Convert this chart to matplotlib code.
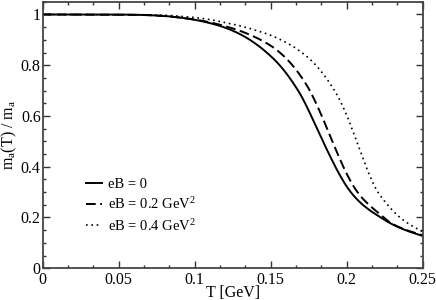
import numpy as np
from matplotlib import pyplot as plt
from matplotlib.ticker import MultipleLocator, FuncFormatter

plt.rcParams['font.family'] = ['Liberation Serif', 'DejaVu Serif']
plt.rcParams['mathtext.fontset'] = 'custom'
plt.rcParams['mathtext.rm'] = 'Liberation Serif'
plt.rcParams['mathtext.it'] = 'Liberation Serif:italic'

# temperature grid [GeV] and m_a(T)/m_a for three field strengths
T_eb0 = [0, 0.04, 0.06, 0.08, 0.09, 0.10, 0.11, 0.12, 0.13, 0.14, 0.15, 0.155, 0.16, 0.165,
         0.17, 0.175, 0.18, 0.185, 0.19, 0.195, 0.2, 0.205, 0.21, 0.215, 0.22, 0.23, 0.24, 0.25]
m_eb0 = [1.0, 1.0, 0.999, 0.994, 0.988, 0.979, 0.966, 0.948, 0.922, 0.885, 0.836, 0.806, 0.770, 0.728,
         0.680, 0.621, 0.556, 0.492, 0.430, 0.372, 0.322, 0.283, 0.253, 0.229, 0.209, 0.173, 0.147, 0.127]

T_eb02 = [0, 0.06, 0.08, 0.09, 0.1, 0.11, 0.12, 0.13, 0.14, 0.15, 0.155, 0.16, 0.165, 0.17, 0.175,
          0.18, 0.185, 0.19, 0.195, 0.2, 0.205, 0.21, 0.215, 0.22, 0.23, 0.24, 0.25]
m_eb02 = [1.0, 0.999, 0.994, 0.988, 0.980, 0.969, 0.954, 0.935, 0.910, 0.877, 0.855, 0.828, 0.795, 0.755, 0.708,
          0.648, 0.580, 0.508, 0.437, 0.372, 0.318, 0.278, 0.248, 0.222, 0.175, 0.149, 0.130]

T_eb04 = [0, 0.06, 0.08, 0.09, 0.1, 0.11, 0.12, 0.13, 0.14, 0.15, 0.155, 0.16, 0.165, 0.17, 0.175,
          0.18, 0.185, 0.19, 0.195, 0.2, 0.205, 0.21, 0.215, 0.22, 0.225, 0.23, 0.235, 0.24, 0.245, 0.25]
m_eb04 = [1.0, 0.999, 0.997, 0.993, 0.988, 0.980, 0.968, 0.955, 0.938, 0.918, 0.905, 0.890, 0.873, 0.852, 0.828,
          0.798, 0.762, 0.719, 0.668, 0.603, 0.525, 0.445, 0.367, 0.305, 0.263, 0.229, 0.200, 0.178, 0.160, 0.144]

labels = ['eB = 0', 'eB = 0.2 GeV$^2$', 'eB = 0.4 GeV$^2$']


def smooth(x, y, n=400):
    # monotone cubic (pchip-like) interpolation through the read-off points
    x = np.asarray(x, float)
    y = np.asarray(y, float)
    h = np.diff(x)
    d = np.diff(y) / h
    m = np.zeros_like(y)
    for k in range(1, len(x) - 1):
        if d[k - 1] * d[k] > 0:
            w1 = 2 * h[k] + h[k - 1]
            w2 = h[k] + 2 * h[k - 1]
            m[k] = (w1 + w2) / (w1 / d[k - 1] + w2 / d[k])
    m[0] = d[0]
    m[-1] = d[-1]
    xs = np.linspace(x[0], x[-1], n)
    idx = np.clip(np.searchsorted(x, xs) - 1, 0, len(h) - 1)
    t = (xs - x[idx]) / h[idx]
    h00 = 2 * t**3 - 3 * t**2 + 1
    h10 = t**3 - 2 * t**2 + t
    h01 = -2 * t**3 + 3 * t**2
    h11 = t**3 - t**2
    ys = h00 * y[idx] + h10 * h[idx] * m[idx] + h01 * y[idx + 1] + h11 * h[idx] * m[idx + 1]
    return xs, ys


fig = plt.figure(figsize=(4.36, 3.0), dpi=100)
ax = fig.add_axes([0.098, 0.106, 0.8715, 0.888])

ax.plot(*smooth(T_eb0, m_eb0), color='black', lw=1.4, ls='-', label=labels[0])
ax.plot(*smooth(T_eb02, m_eb02), color='black', lw=1.4, ls=(0, (5, 2.3)), label=labels[1])
ax.plot(*smooth(T_eb04, m_eb04), color='black', lw=1.2, ls=(0, (1, 2.2)), label=labels[2])

ax.set_xlim(0, 0.25)
ax.set_ylim(0, 1.05)
ax.xaxis.set_major_locator(MultipleLocator(0.05))
ax.xaxis.set_minor_locator(MultipleLocator(0.05 / 3))
ax.yaxis.set_major_locator(MultipleLocator(0.2))
ax.yaxis.set_minor_locator(MultipleLocator(0.05))
fmt = FuncFormatter(lambda v, p: '{:g}'.format(round(v, 3)))
ax.xaxis.set_major_formatter(fmt)
ax.yaxis.set_major_formatter(fmt)
ax.tick_params(which='both', direction='in', top=True, right=True, labelsize=11.5,
               color='#333333', width=1)
ax.tick_params(which='major', length=5)
ax.tick_params(which='minor', length=2.5)
ax.tick_params(axis='y', which='major', pad=1.5)
ax.tick_params(axis='x', which='major', pad=2.5)
for s in ax.spines.values():
    s.set_linewidth(1.3)
    s.set_color('#444444')

ax.set_xlabel('T [GeV]', fontsize=11.5, labelpad=-2)
ax.set_ylabel('m$_\\mathrm{a}$(T) / m$_\\mathrm{a}$', fontsize=11.5, labelpad=1)

ax.legend(loc='upper left', bbox_to_anchor=(0.08, 0.39), frameon=False, fontsize=10.5,
          handlelength=1.05, handletextpad=0.45, labelspacing=0.38)

fig.savefig('out.png', dpi=100)
